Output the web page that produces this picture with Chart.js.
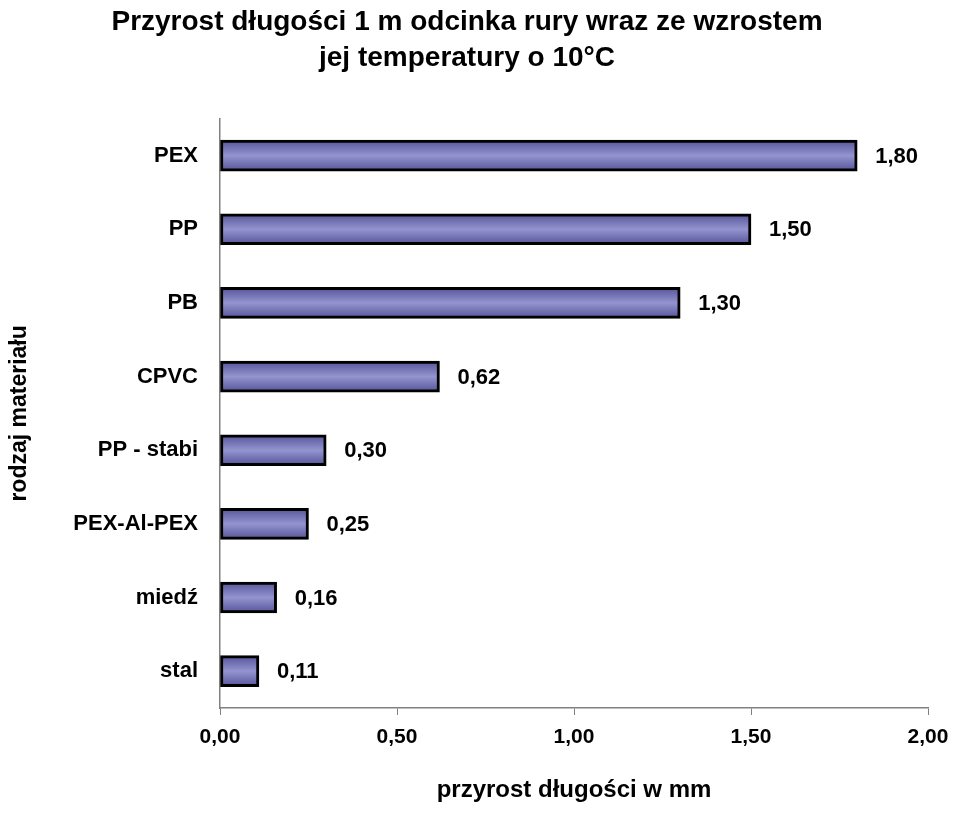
<!DOCTYPE html>
<html lang="pl">
<head>
<meta charset="utf-8">
<title></title>
<style>
body { margin: 0; background: #fff; }
#wrap { width: 970px; height: 813px; }
</style>
</head>
<body>
<div id="wrap"><canvas id="myChart"></canvas></div>
<script src="https://cdn.jsdelivr.net/npm/chart.js"></script>
<script>
const materials = ['PEX', 'PP', 'PB', 'CPVC', 'PP - stabi', 'PEX-Al-PEX', 'miedź', 'stal'];
const growth = [1.80, 1.50, 1.30, 0.62, 0.30, 0.25, 0.16, 0.11];

const FONT = '"Liberation Sans", Arial, sans-serif';

function fmt(v) {
	return v.toFixed(2).replace('.', ',');
}

function barFill(c) {
	const y = c.chart.scales.y;
	if (!y || y.top === undefined) return '#8080c0';
	const mid = y.getPixelForValue(c.dataIndex);
	const g = c.chart.ctx.createLinearGradient(0, mid - 15, 0, mid + 15);
	g.addColorStop(0, '#55559a');
	g.addColorStop(0.5, '#9494d0');
	g.addColorStop(1, '#55559a');
	return g;
}

const valueLabels = {
	id: 'valueLabels',
	afterDatasetsDraw(chart) {
		const ctx = chart.ctx;
		const meta = chart.getDatasetMeta(0);
		ctx.save();
		ctx.font = 'bold 22px ' + FONT;
		ctx.fillStyle = '#000';
		ctx.textBaseline = 'middle';
		meta.data.forEach((bar, i) => {
			ctx.fillText(fmt(growth[i]), bar.x + 18, bar.y + 1);
		});
		ctx.restore();
	}
};

new Chart(document.getElementById('myChart'), {
	type: 'bar',
	data: {
		labels: materials,
		datasets: [{
			data: growth,
			backgroundColor: barFill,
			borderColor: '#000',
			borderWidth: 3,
			borderSkipped: false,
			barThickness: 31
		}]
	},
	plugins: [valueLabels],
	options: {
		indexAxis: 'y',
		responsive: true,
		maintainAspectRatio: false,
		animation: false,
		layout: { padding: { left: 6, right: 42, top: 0, bottom: 4 } },
		scales: {
			x: {
				min: 0, max: 2,
				ticks: {
					stepSize: 0.5,
					color: '#000',
					font: { family: FONT, size: 21, weight: 'bold' },
					callback: v => fmt(v),
					padding: 10
				},
				grid: { drawOnChartArea: false, tickLength: 7, color: '#808080' },
				border: { color: '#808080', width: 1.5 },
				title: {
					display: true,
					text: 'przyrost długości w mm',
					color: '#000',
					font: { family: FONT, size: 24, weight: 'bold' },
					padding: { top: 16 }
				}
			},
			y: {
				afterFit: s => { s.width = 214; },
				ticks: {
					color: '#000',
					font: { family: FONT, size: 22, weight: 'bold' },
					padding: 14
				},
				grid: { display: false },
				border: { color: '#808080', width: 1.5 },
				title: {
					display: true,
					text: 'rodzaj materiału',
					color: '#000',
					font: { family: FONT, size: 23, weight: 'bold' },
					padding: 0
				}
			}
		},
		plugins: {
			legend: { display: false },
			tooltip: { enabled: false },
			title: {
				display: true,
				text: ['Przyrost długości 1 m odcinka rury wraz ze wzrostem', 'jej temperatury o 10°C'],
				color: '#000',
				font: { family: FONT, size: 28, weight: 'bold', lineHeight: 1.3 },
				padding: { top: 4, bottom: 42 }
			}
		}
	}
});
</script>
</body>
</html>
